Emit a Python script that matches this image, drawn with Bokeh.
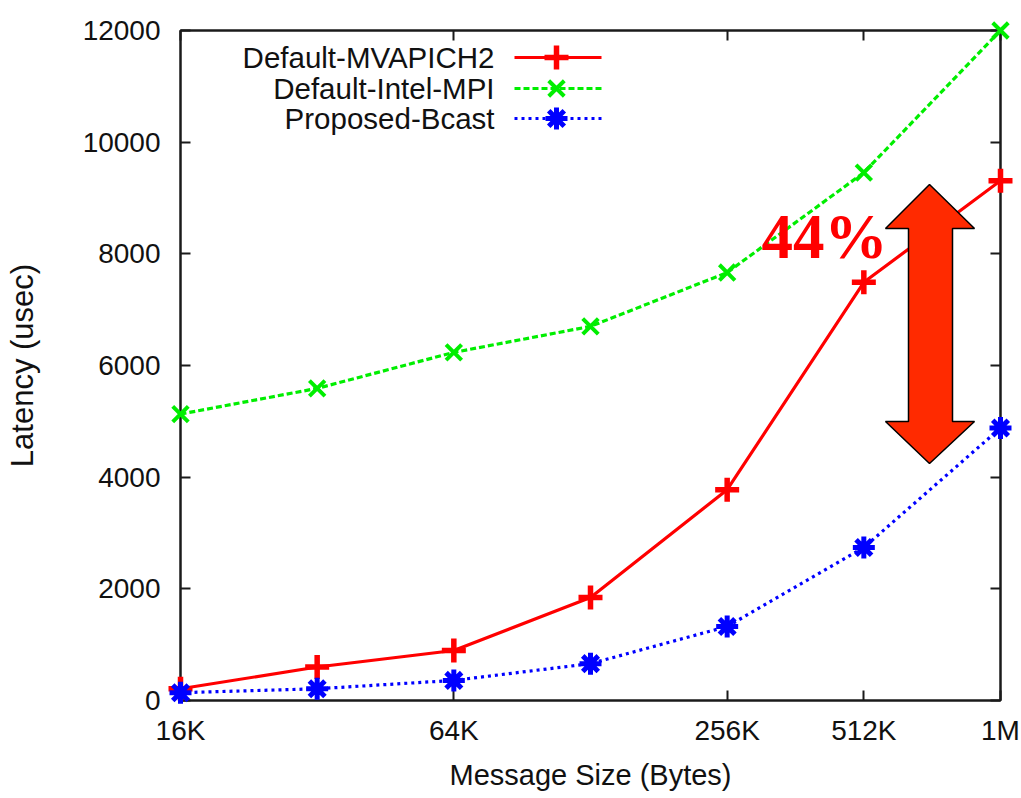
from bokeh.plotting import figure
from bokeh.models import (Range1d, FixedTicker, LogAxis, LinearAxis, Label,
                          LinearScale)
from bokeh.core.properties import value
from bokeh.embed import file_html
from bokeh.resources import INLINE

# Message sizes (bytes) and measured broadcast latencies (usec)
sizes = [16384, 32768, 65536, 131072, 262144, 524288, 1048576]
mvapich2 = [210, 600, 895, 1845, 3775, 7490, 9310]
intel_mpi = [5130, 5590, 6235, 6700, 7665, 9455, 12000]
proposed = [140, 210, 360, 660, 1325, 2740, 4880]

series_names = ["Default-MVAPICH2", "Default-Intel-MPI", "Proposed-Bcast"]

x_tick_values = [16384, 65536, 262144, 524288, 1048576]
x_tick_labels = ["16K", "64K", "256K", "512K", "1M"]
y_tick_values = [0, 2000, 4000, 6000, 8000, 10000, 12000]

improvement_text = "44%"

FONT = "Liberation Sans"
AXIS_COLOR = "#1a1a1a"

p = figure(width=1021, height=798, x_axis_type="log",
           x_range=Range1d(16384, 1048576), y_range=Range1d(0, 12000),
           output_backend="svg", toolbar_location=None,
           min_border_left=180, min_border_right=21,
           min_border_top=30, min_border_bottom=98)
p.background_fill_color = "white"
p.border_fill_color = "white"
p.outline_line_color = AXIS_COLOR
p.outline_line_width = 2
p.xgrid.visible = False
p.ygrid.visible = False

# pixel-space overlay used for the key and the annotation arrow
p.extra_x_ranges = {"px": Range1d(180, 1000)}
p.extra_x_scales = {"px": LinearScale()}
p.extra_y_ranges = {"px": Range1d(700, 30)}
p.extra_y_scales = {"px": LinearScale()}

# ---- axes (gnuplot-like: inward ticks, mirrored on top/right) ----
xa = p.xaxis[0]
xa.ticker = FixedTicker(ticks=x_tick_values)
xa.major_label_overrides = {v: s for v, s in zip(x_tick_values, x_tick_labels)}
xa.axis_label = "Message Size (Bytes)"

ya = p.yaxis[0]
ya.ticker = FixedTicker(ticks=y_tick_values)
ya.axis_label = "Latency (usec)"

for ax in (xa, ya):
    ax.major_tick_in = 10
    ax.major_tick_out = 0
    ax.minor_tick_in = 0
    ax.minor_tick_out = 0
    ax.axis_line_color = AXIS_COLOR
    ax.axis_line_width = 2
    ax.major_tick_line_color = AXIS_COLOR
    ax.major_tick_line_width = 2
    ax.major_label_text_font = FONT
    ax.major_label_text_font_size = "28px"
    ax.major_label_text_color = "#111111"
    ax.axis_label_text_font = FONT
    ax.axis_label_text_font_style = "normal"
    ax.axis_label_text_color = "#111111"

xa.major_label_standoff = 14
xa.axis_label_text_font_size = "29px"
xa.axis_label_standoff = 10
ya.major_label_standoff = 20
ya.axis_label_text_font_size = "31px"
ya.axis_label_standoff = 40

top = LogAxis(ticker=FixedTicker(ticks=x_tick_values))
right = LinearAxis(ticker=FixedTicker(ticks=y_tick_values))
for ax in (top, right):
    ax.major_tick_in = 10
    ax.major_tick_out = 0
    ax.minor_tick_in = 0
    ax.minor_tick_out = 0
    ax.axis_line_color = AXIS_COLOR
    ax.axis_line_width = 2
    ax.major_tick_line_color = AXIS_COLOR
    ax.major_tick_line_width = 2
    ax.major_label_text_alpha = 0
    ax.major_label_text_font_size = "1px"
    ax.major_label_standoff = 0
p.add_layout(top, "above")
p.add_layout(right, "right")

# ---- series ----
RED, GREEN, BLUE = "#ff0000", "#00ee00", "#0000ff"
styles = [
    dict(y=mvapich2, color=RED, dash="solid", marker="cross", size=24, mlw=5.5),
    dict(y=intel_mpi, color=GREEN, dash="6 3", marker="x", size=22, mlw=4),
    dict(y=proposed, color=BLUE, dash="3 4", marker="asterisk", size=22, mlw=5),
]
for st in styles:
    p.line(sizes, st["y"], line_color=st["color"], line_width=3.2,
           line_dash=st["dash"])
for st in styles:
    p.scatter(sizes, st["y"], marker=st["marker"], size=st["size"],
              line_color=st["color"], line_width=st["mlw"],
              fill_color=st["color"], level="overlay")

# ---- key (text right-aligned, sample to its right) ----
key_rows = [57, 88, 118]
for name, st, ky in zip(series_names, styles, key_rows):
    p.text(x=[494], y=[ky], text=[name], x_range_name="px", y_range_name="px",
           text_align="right", text_baseline="middle",
           text_font=value(FONT), text_font_size="29.5px", text_color="#111111")
    p.line([514, 601], [ky, ky], x_range_name="px", y_range_name="px",
           line_color=st["color"], line_width=3.2, line_dash=st["dash"])
    p.scatter([556], [ky], x_range_name="px", y_range_name="px",
              marker=st["marker"], size=st["size"], line_color=st["color"],
              line_width=st["mlw"], fill_color=st["color"])

# ---- double-headed arrow marking the gap at 1M ----
ax_pts = [929, 974, 952, 952, 974, 929, 885, 908, 908, 885]
ay_pts = [184, 228, 228, 421, 421, 463, 421, 421, 228, 228]
p.patch(ax_pts, ay_pts, x_range_name="px", y_range_name="px",
        fill_color="#ff2a00", line_color="black", line_width=1.5,
        level="overlay")

p.add_layout(Label(x=761, y=236, x_range_name="px", y_range_name="px",
                   text=improvement_text, text_font="Liberation Serif",
                   text_font_style="bold", text_font_size="63px",
                   text_color="#ff0000", text_baseline="alphabetic",
                   text_align="left"))

open("out.html", "w").write(file_html(p, INLINE))
